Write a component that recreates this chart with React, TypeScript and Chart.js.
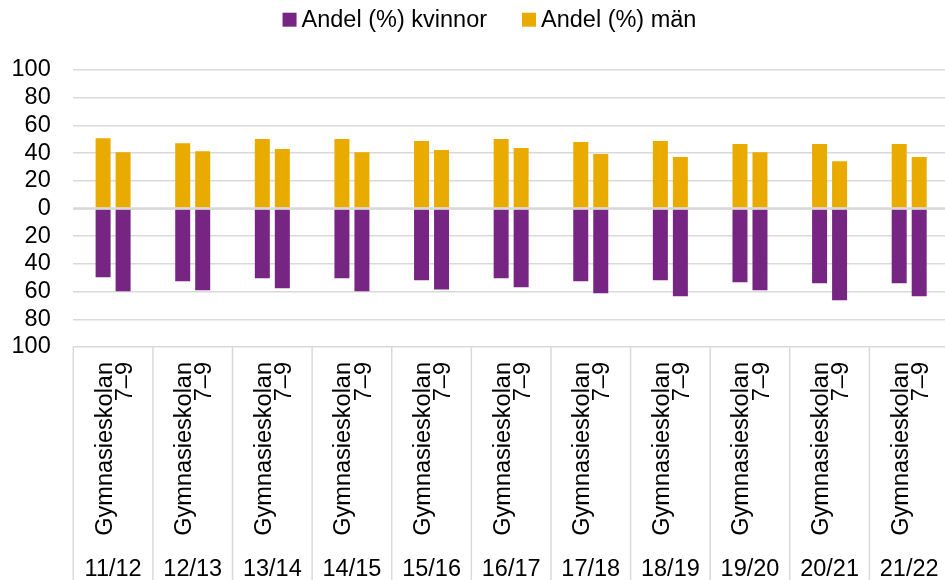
import React, { useEffect, useRef } from 'react';
import { Chart, registerables } from 'chart.js';

Chart.register(...registerables);

// ---- data ----
const years = ['11/12', '12/13', '13/14', '14/15', '15/16', '16/17', '17/18', '18/19', '19/20', '20/21', '21/22'];
const schoolLevels = ['Gymnasieskolan', '7–9'];
const seriesKvinnor = 'Andel (%) kvinnor';
const seriesMan = 'Andel (%) män';
// kvinnor are drawn below the zero line (negative), män above
const kvinnorGymnasieskolan = [-49.7, -52.6, -50.4, -50.4, -51.8, -50.4, -52.6, -51.8, -53.3, -54.0, -54.0];
const kvinnor79 = [-59.8, -59.1, -57.6, -59.8, -58.4, -56.9, -61.2, -63.4, -59.1, -66.3, -63.4];
const manGymnasieskolan = [50.8, 47.2, 50.1, 50.1, 48.7, 50.1, 48.0, 48.7, 46.5, 46.5, 46.5];
const man79 = [40.7, 41.4, 42.9, 40.7, 42.2, 43.6, 39.3, 37.1, 40.7, 34.2, 37.1];
const yMin = -100;
const yMax = 100;
const yStep = 20;

// ---- styles ----
const PURPLE = '#772583';
const GOLD = '#EAAB00';
const GRID = '#D9D9D9';
const FONT_FAMILY = '"Liberation Sans", Arial, sans-serif';
const FONT_SIZE = 23.5;

const overlayPlugin = {
  id: 'overlay',
  afterDatasetsDraw(chart: any) {
    const { ctx, chartArea, scales } = chart;
    const y0 = scales.y.getPixelForValue(0);
    ctx.save();
    ctx.strokeStyle = GRID;
    ctx.lineWidth = 2.5;
    ctx.beginPath();
    ctx.moveTo(chartArea.left, y0);
    ctx.lineTo(chartArea.right, y0);
    ctx.stroke();
    ctx.restore();
  },
  afterDraw(chart: any) {
    const { ctx, chartArea, scales, height } = chart;
    const xs = scales.x;
    const n = chart.data.labels.length;
    const w = (xs.right - xs.left) / n;
    ctx.save();
    ctx.strokeStyle = GRID;
    ctx.lineWidth = 1.5;
    for (let i = 0; i <= n; i++) {
      const px = i < n ? xs.getPixelForTick(i) - w / 2 : xs.getPixelForTick(n - 1) + w / 2;
      ctx.beginPath();
      ctx.moveTo(px, chartArea.bottom);
      ctx.lineTo(px, height);
      ctx.stroke();
    }
    // legend
    const items: { label: string; color: string }[] = [];
    chart.data.datasets.forEach((ds: any) => {
      if (!items.find((it) => it.label === ds.label)) items.push({ label: ds.label, color: ds.backgroundColor });
    });
    ctx.font = `${FONT_SIZE}px ${FONT_FAMILY}`;
    const box = 14;
    const gap = 5;
    const spacing = 35;
    const widths = items.map((it) => ctx.measureText(it.label).width);
    const total = widths.reduce((a, b) => a + b + box + gap, 0) + spacing * (items.length - 1);
    let x = 489.5 - total / 2;
    const boxTop = 12.7;
    const baseline = 26.6;
    ctx.textBaseline = 'alphabetic';
    ctx.textAlign = 'left';
    items.forEach((it, i) => {
      ctx.fillStyle = it.color;
      ctx.fillRect(x, boxTop, box, box);
      ctx.fillStyle = '#000';
      ctx.fillText(it.label, x + box + gap, baseline);
      x += box + gap + widths[i] + spacing;
    });
    ctx.restore();
  },
};

export default function App() {
  const ref = useRef<HTMLCanvasElement | null>(null);

  useEffect(() => {
    if (!ref.current) return;
    const chart = new Chart(ref.current, {
      type: 'bar',
      data: {
        labels: years,
        datasets: [
          { label: seriesKvinnor, data: kvinnorGymnasieskolan, backgroundColor: PURPLE, stack: 'gymnasieskolan' },
          { label: seriesMan, data: manGymnasieskolan, backgroundColor: GOLD, stack: 'gymnasieskolan' },
          { label: seriesKvinnor, data: kvinnor79, backgroundColor: PURPLE, stack: 'grund79' },
          { label: seriesMan, data: man79, backgroundColor: GOLD, stack: 'grund79' },
        ],
      },
      options: {
        responsive: false,
        animation: false,
        devicePixelRatio: 1,
        categoryPercentage: 0.5025,
        barPercentage: 0.75,
        layout: { padding: { top: 70, left: 0, right: 0, bottom: 0 } },
        plugins: {
          legend: { display: false },
          tooltip: { enabled: false },
        },
        scales: {
          x: {
            type: 'category',
            position: 'bottom',
            weight: 1,
            stacked: true,
            offset: true,
            grid: { display: false, drawTicks: false },
            border: { display: false },
            ticks: {
              autoSkip: false,
              minRotation: 90,
              maxRotation: 90,
              padding: 15,
              labelOffset: -8,
              color: '#000',
              font: { family: FONT_FAMILY, size: FONT_SIZE, lineHeight: 0.86 },
              callback: () => schoolLevels,
            },
            afterFit: (s: any) => {
              s.height = 200;
              s.paddingLeft = 0;
              s.paddingRight = 0;
            },
          },
          x2: {
            type: 'category',
            position: 'bottom',
            weight: 2,
            offset: true,
            grid: { display: false, drawTicks: false },
            border: { display: false },
            ticks: {
              autoSkip: false,
              maxRotation: 0,
              minRotation: 0,
              padding: 8,
              color: '#000',
              font: { family: FONT_FAMILY, size: FONT_SIZE },
            },
            afterFit: (s: any) => {
              s.height = 33;
              s.paddingLeft = 0;
              s.paddingRight = 0;
            },
          },
          y: {
            stacked: true,
            min: yMin,
            max: yMax,
            grid: { color: GRID, lineWidth: 1.5, drawTicks: false },
            border: { display: false },
            ticks: {
              stepSize: yStep,
              autoSkip: false,
              padding: 22.6,
              color: '#000',
              font: { family: FONT_FAMILY, size: FONT_SIZE },
              callback: (v: any) => String(Math.abs(Number(v))),
            },
            afterFit: (s: any) => {
              s.width = 73.3;
            },
          },
        },
      },
      plugins: [overlayPlugin],
    } as any);
    return () => chart.destroy();
  }, []);

  return (
    <div style={{ position: 'absolute', left: 0, top: 0, width: 945, height: 580, overflow: 'hidden', background: '#fff' }}>
      <canvas ref={ref} width={949} height={580} style={{ display: 'block' }} />
    </div>
  );
}
